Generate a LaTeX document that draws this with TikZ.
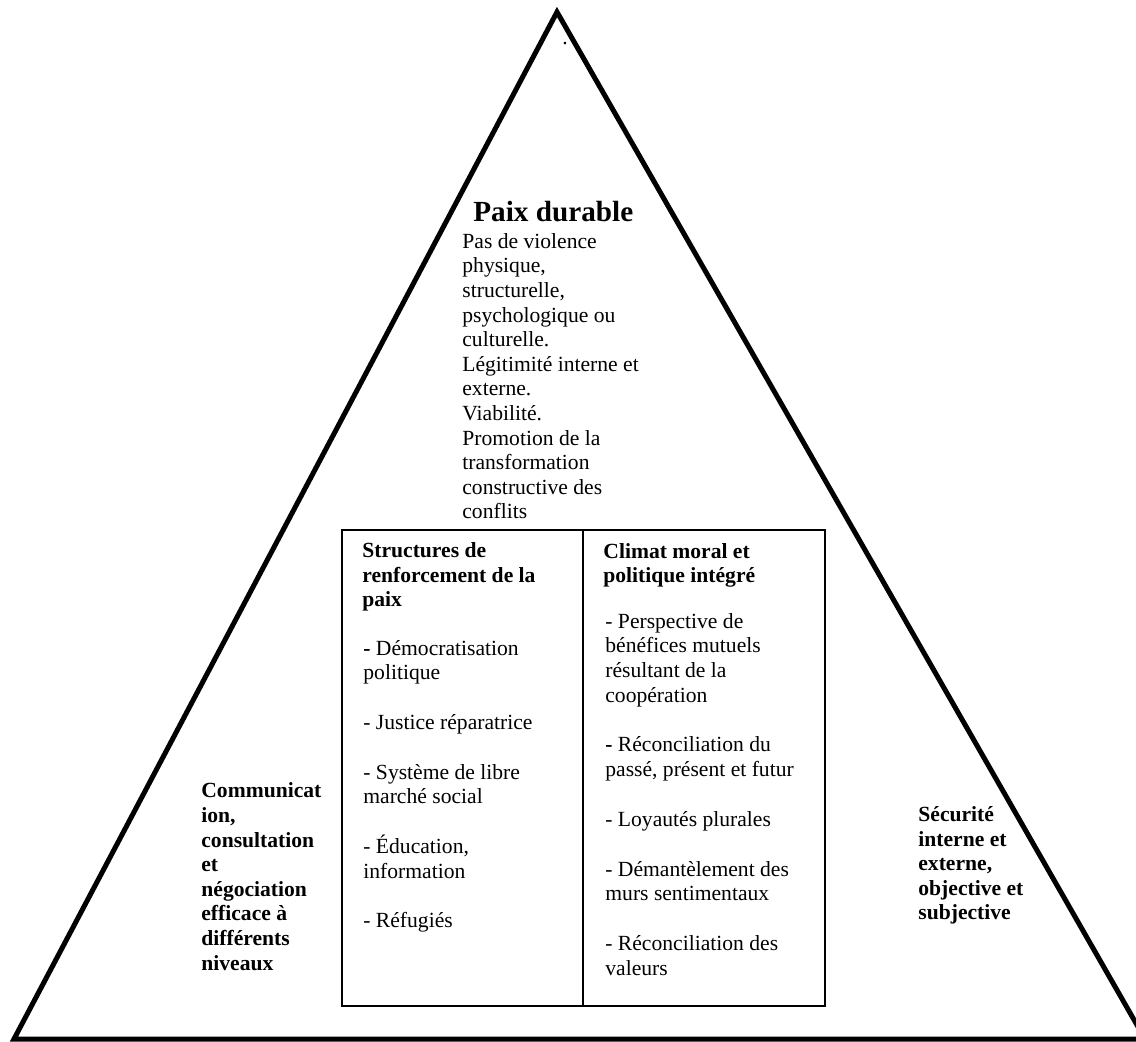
\documentclass[tikz,border=0pt]{standalone}
\usepackage{fontspec}
\setmainfont{Liberation Serif}
\usepackage{tikz}

\tikzset{
    txt/.style={anchor=base west, inner sep=0pt, align=left, font=\fontsize{10.8}{12.3}\selectfont},
    boldtxt/.style={txt, font=\fontsize{10.8}{12.3}\selectfont\bfseries},
}

\begin{document}
\begin{tikzpicture}[x=0.5pt, y=-0.5pt]

    % Fix page size
    \useasboundingbox (0,0) rectangle (1136,1042);

    % Set gap between items
    \def\gap{\\[12.6pt]}

    % Draw triangle
    \coordinate (apex) at (557,12);
    \coordinate (bl) at (14,1039);
    \coordinate (br) at (1145,1039);
    \draw[line width=2.5pt, line join=miter] (apex) -- (bl) -- (br) -- cycle;

    % Draw small dot under apex
    \node[txt, anchor=base] (dot) at (565,45) {.};

    % Draw title and text of the top (multi-line nodes sit on their last line)
    \node[anchor=base west, inner sep=0pt, font=\fontsize{14.6}{16}\selectfont\bfseries] (title) at (473,222) {Paix durable};
    \node[txt] (peace) at (462,519) {Pas de violence\\ physique,\\ structurelle,\\ psychologique ou\\ culturelle.\\ Légitimité interne et\\ externe.\\ Viabilité.\\ Promotion de la\\ transformation\\ constructive des\\ conflits};

    % Draw box with two columns
    \coordinate (tl) at (342,530);
    \coordinate (rb) at (825,1006);
    \draw[line width=0.75pt] (tl) rectangle (rb);
    \draw[line width=0.75pt] (583,530) -- (583,1006);

    % Draw left column
    \node[boldtxt] (structhead) at (362,607) {Structures de\\ renforcement de la\\ paix};
    \node[txt] (structlist) at (363,928) {\textbf{-} Démocratisation\\ politique\gap
        - Justice réparatrice\gap
        - Système de libre\\ marché social\gap
        - Éducation,\\ information\gap
        - Réfugiés};

    % Draw right column
    \node[boldtxt] (climhead) at (603,583) {Climat moral et\\ politique intégré};
    \node[txt] (climlist) at (605,975) {- Perspective de\\ bénéfices mutuels\\ résultant de la\\ coopération\gap
        \textbf{-} Réconciliation du\\ passé, présent et futur\gap
        - Loyautés plurales\gap
        - Démantèlement des\\ murs sentimentaux\gap
        - Réconciliation des\\ valeurs};

    % Draw side labels
    \node[boldtxt] (comm) at (201,970) {Communicat\\ ion,\\ consultation\\ et\\ négociation\\ efficace à\\ différents\\ niveaux};
    \node[boldtxt] (secu) at (918,920) {Sécurité\\ interne et\\ externe,\\ objective et\\ subjective};

\end{tikzpicture}
\end{document}
